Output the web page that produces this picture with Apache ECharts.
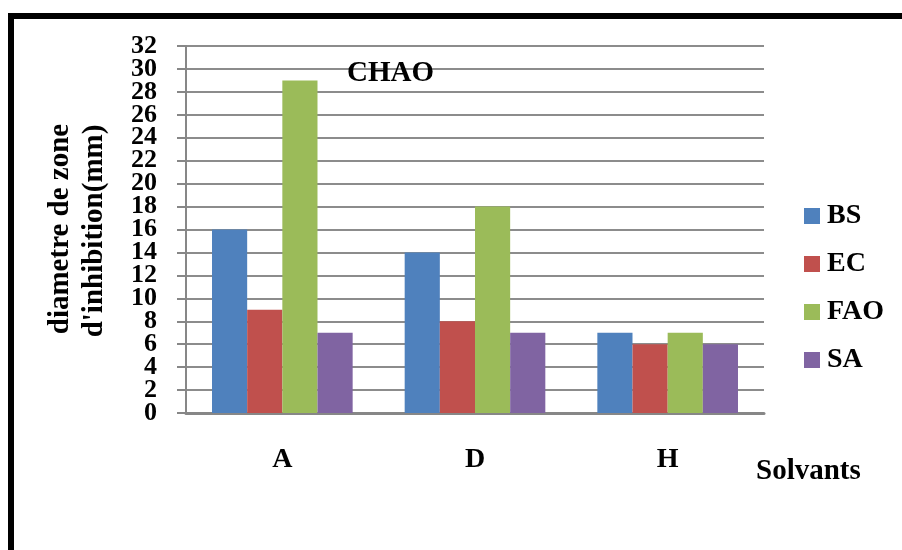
<!DOCTYPE html>
<html>
<head>
<meta charset="utf-8">
<script src="https://cdn.jsdelivr.net/npm/echarts@6/dist/echarts.min.js"></script>
<style>
  html, body { margin: 0; padding: 0; background: #fff; }
  #chart { width: 902px; height: 550px; }
</style>
</head>
<body>
<div id="chart"></div>
<script>
// Solvents on the category axis
const solvants = ['A', 'D', 'H'];
// Inhibition zone diameters (mm) per strain
const bs  = [16, 14, 7];
const ec  = [9, 8, 6];
const fao = [29, 18, 7];
const sa  = [7, 7, 6];
const seriesNames = ['BS', 'EC', 'FAO', 'SA'];
const yTicks = { min: 0, max: 32, interval: 2 };

const serif = '"Liberation Serif", "Times New Roman", serif';
const colors = ['#4F81BD', '#C0504D', '#9BBB59', '#8064A2'];

const chart = echarts.init(document.getElementById('chart'));

function barSeries(name, data, color) {
  return {
    name: name,
    type: 'bar',
    data: data,
    barGap: '0%',
    barCategoryGap: '27%',
    itemStyle: { color: color },
    emphasis: { disabled: true }
  };
}

// The tick labels are packed tighter than their font height, so they are
// split across two stacked value axes (multiples of 4 / the others) to keep
// every label visible.
const labelStyle = { margin: 29, fontFamily: serif, fontWeight: 'bold', fontSize: 26, color: '#000' };

chart.setOption({
  animation: false,
  backgroundColor: '#ffffff',
  color: colors,
  title: {
    text: 'CHAO',
    left: 347,
    top: 59,
    padding: 0,
    textStyle: { fontFamily: serif, fontWeight: 'bold', fontSize: 29, color: '#000' }
  },
  legend: {
    orient: 'vertical',
    left: 804,
    top: 202,
    padding: 0,
    itemWidth: 16,
    itemHeight: 16,
    itemGap: 20,
    icon: 'rect',
    data: seriesNames,
    textStyle: { fontFamily: serif, fontWeight: 'bold', fontSize: 28, color: '#000', lineHeight: 28, padding: [0, 0, 0, 2] }
  },
  grid: { left: 186, right: 138, top: 46, bottom: 137 },
  xAxis: {
    type: 'category',
    data: solvants,
    axisLine: { lineStyle: { color: '#878787', width: 3 } },
    axisTick: { show: false },
    axisLabel: { margin: 33, fontFamily: serif, fontWeight: 'bold', fontSize: 28, color: '#000' }
  },
  yAxis: [
    {
      type: 'value',
      position: 'left',
      min: yTicks.min,
      max: yTicks.max,
      interval: yTicks.interval,
      axisLine: { show: true, lineStyle: { color: '#878787', width: 2 } },
      axisTick: { show: true, length: 9, lineStyle: { color: '#878787', width: 2 } },
      axisLabel: Object.assign({
        showMinLabel: true, showMaxLabel: true,
        formatter: v => (v % 4 === 0 ? String(v) : '')
      }, labelStyle),
      splitLine: { lineStyle: { color: '#8c8c8c', width: 2 } }
    },
    {
      type: 'value',
      position: 'left',
      min: yTicks.min,
      max: yTicks.max,
      interval: yTicks.interval,
      axisLine: { show: false },
      axisTick: { show: false },
      splitLine: { show: false },
      axisLabel: Object.assign({
        showMinLabel: false, showMaxLabel: false,
        formatter: v => (v % 4 !== 0 ? String(v) : '')
      }, labelStyle)
    }
  ],
  graphic: [
    {
      type: 'polyline',
      shape: { points: [[11, 560], [11, 16], [910, 16]] },
      style: { stroke: '#000', lineWidth: 6, fill: null }
    },
    {
      type: 'text',
      x: 61, y: 229,
      rotation: Math.PI / 2,
      style: { text: 'diametre de zone', fontFamily: serif, fontWeight: 'bold', fontSize: 29, fill: '#000', align: 'center', verticalAlign: 'middle' }
    },
    {
      type: 'text',
      x: 95, y: 231,
      rotation: Math.PI / 2,
      style: { text: "d'inhibition(mm)", fontFamily: serif, fontWeight: 'bold', fontSize: 29, fill: '#000', align: 'center', verticalAlign: 'middle' }
    },
    {
      type: 'text',
      x: 756, y: 472,
      style: { text: 'Solvants', fontFamily: serif, fontWeight: 'bold', fontSize: 29, fill: '#000', align: 'left', verticalAlign: 'middle' }
    }
  ],
  series: [
    barSeries(seriesNames[0], bs, colors[0]),
    barSeries(seriesNames[1], ec, colors[1]),
    barSeries(seriesNames[2], fao, colors[2]),
    barSeries(seriesNames[3], sa, colors[3])
  ]
});
</script>
</body>
</html>
